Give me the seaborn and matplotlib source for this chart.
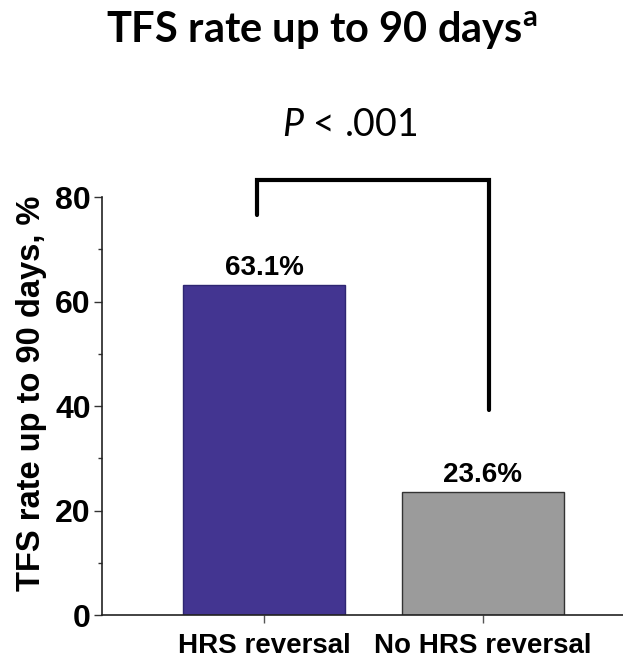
import matplotlib
matplotlib.use("Agg")
import matplotlib.pyplot as plt
import seaborn as sns
import pandas as pd
from matplotlib.ticker import MultipleLocator

# data
groups = ["HRS reversal", "No HRS reversal"]
rates = [63.1, 23.6]
bar_labels = ["63.1%", "23.6%"]
colors = ["#433591", "#9b9b9b"]
p_text = r"$\mathit{P}$ < .001"

sns.set_style("ticks")
plt.rcParams["font.family"] = ["Liberation Sans", "DejaVu Sans"]
plt.rcParams["text.color"] = "black"
plt.rcParams["axes.labelcolor"] = "black"
plt.rcParams["xtick.labelcolor"] = "black"
plt.rcParams["ytick.labelcolor"] = "black"
plt.rcParams["mathtext.fontset"] = "custom"
plt.rcParams["mathtext.rm"] = "Lato"
plt.rcParams["mathtext.it"] = "Lato:italic"
plt.rcParams["mathtext.bf"] = "Lato:bold"

df = pd.DataFrame({"group": groups, "rate": rates})

fig = plt.figure(figsize=(6.23, 6.58), dpi=100)
ax = fig.add_axes([0.1637, 0.0653, 0.8363, 0.6353])

sns.barplot(data=df, x="group", y="rate", hue="group", palette=colors,
            saturation=1, width=0.74, edgecolor="#333333", linewidth=1,
            legend=False, ax=ax)
# purple bar gets its own darker edge
ax.patches[0].set_edgecolor("#2e2672")

for cont, lab in zip(ax.containers, bar_labels):
    ax.bar_label(cont, labels=[lab], padding=3, fontsize=20, fontweight="bold",
                 color="black")

ax.set_ylim(0, 80)
ax.set_xlim(-0.74, 1.64)
ax.yaxis.set_major_locator(MultipleLocator(20))
ax.yaxis.set_minor_locator(MultipleLocator(10))
ax.tick_params(axis="y", which="major", length=6, width=1, labelsize=23, pad=2, color="#333333")
ax.tick_params(axis="y", which="minor", length=3, width=1, color="#333333")
ax.tick_params(axis="x", length=6, width=1, labelsize=20, pad=7, color="#555555")
for t in ax.get_xticklabels() + ax.get_yticklabels():
    t.set_fontweight("bold")

ax.set_xlabel("")
ax.set_ylabel("TFS rate up to 90 days, %", fontsize=23.5, fontweight="bold")
ax.yaxis.set_label_coords(-0.106, 0.53)
sns.despine(ax=ax)
for s in ["left", "bottom"]:
    ax.spines[s].set_color("#222222")
    ax.spines[s].set_linewidth(1.2)

# significance bracket
ax.plot([-0.03, -0.03, 1.03, 1.03], [76.6, 83.3, 83.3, 39.2], color="black",
        lw=3, clip_on=False, solid_joinstyle="miter")

fig.text(0.562, 0.81, p_text, ha="center", va="center", fontsize=27, family="Lato")
fig.text(0.517, 0.955, r"TFS rate up to 90 days$^{\mathbf{a}}$", ha="center", va="center",
         fontsize=30, fontweight="bold", family="Lato", color="black")

fig.savefig("out.png", dpi=100)
